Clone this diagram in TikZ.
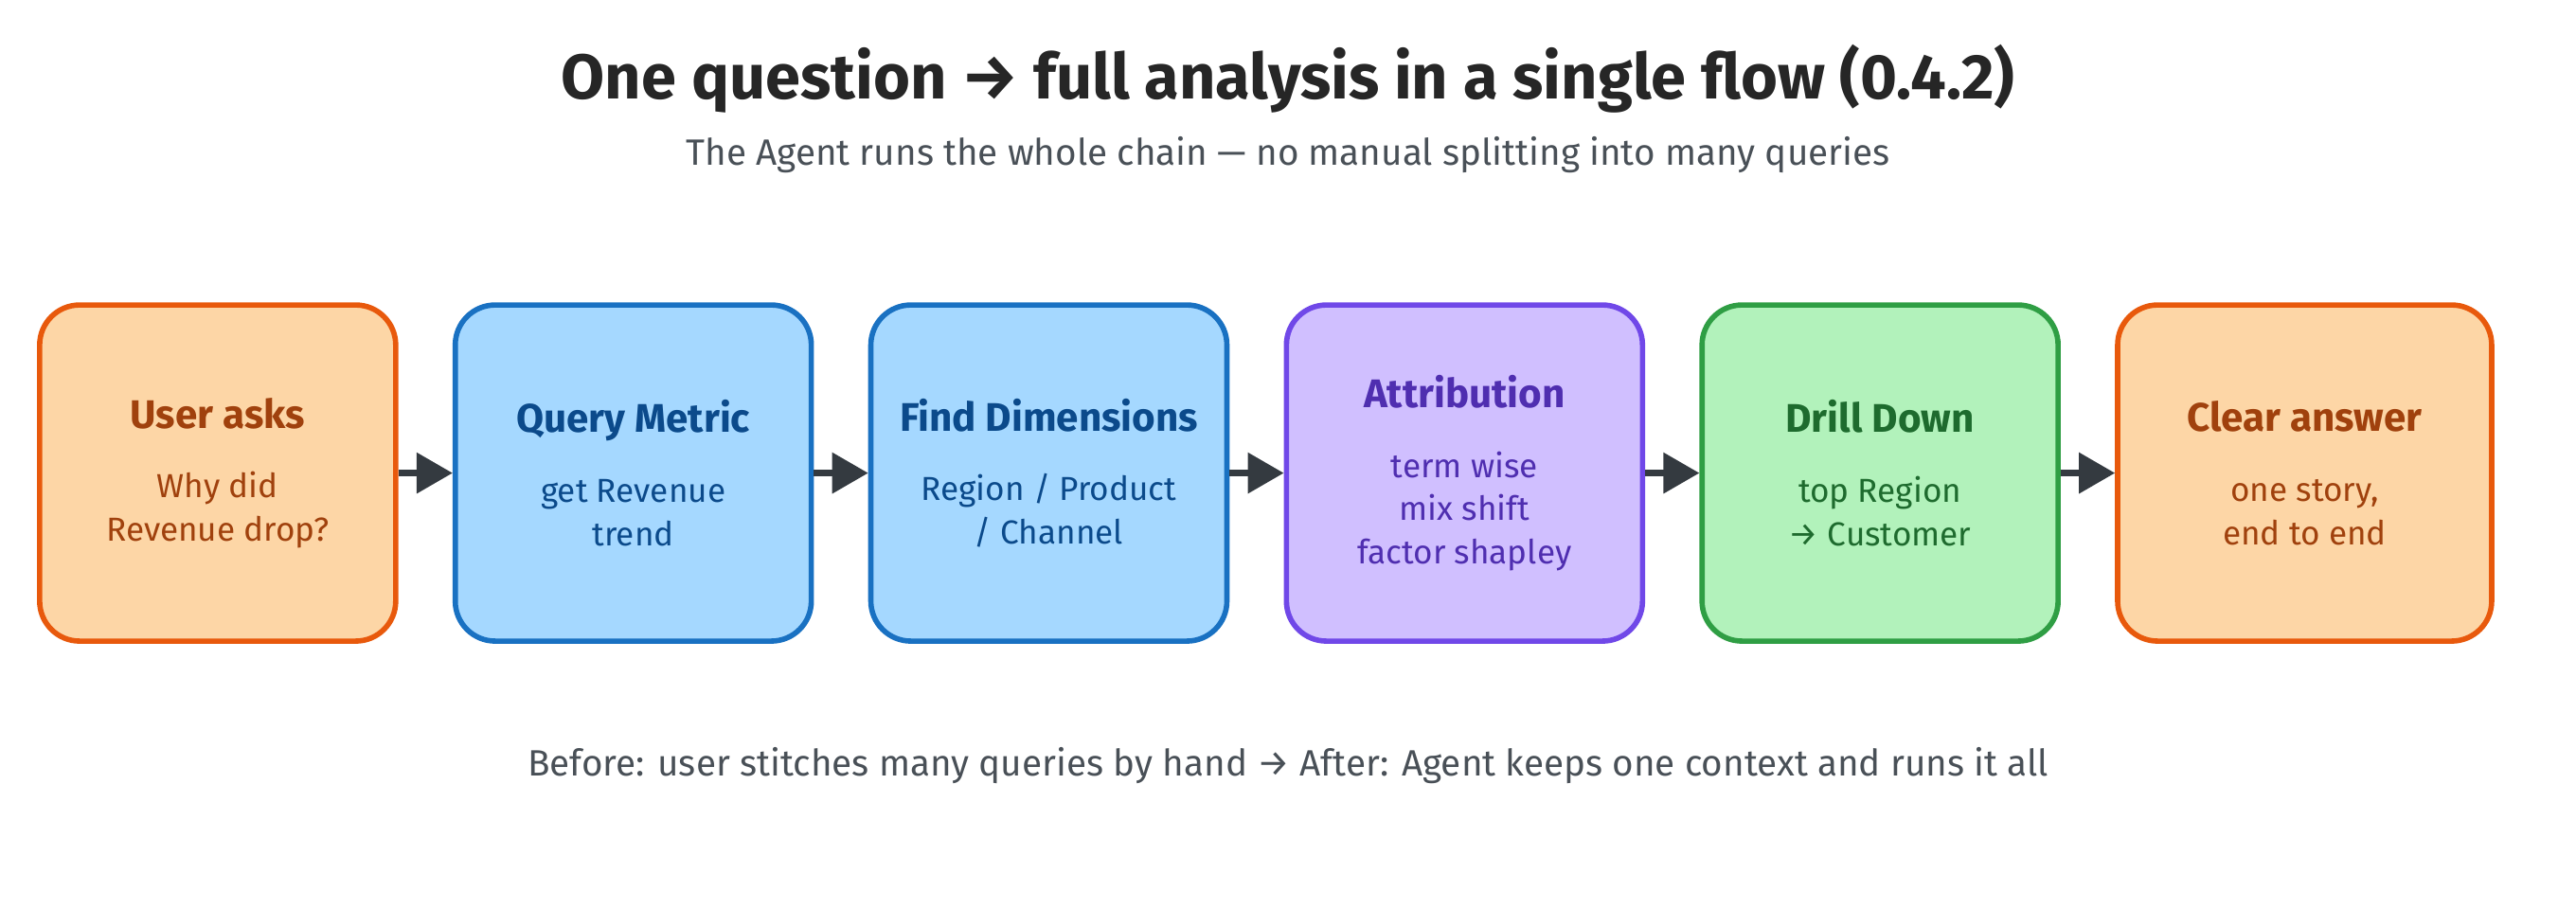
\documentclass[tikz,border=0pt]{standalone}
\usepackage{fontspec}
\setmainfont{Fira Sans}
\usepackage{tikz}
\usetikzlibrary{positioning,arrows.meta}

\definecolor{orangefill}{HTML}{FDD6A6}
\definecolor{orangeline}{HTML}{E8590C}
\definecolor{orangetext}{HTML}{A0410D}
\definecolor{bluefill}{HTML}{A5D8FF}
\definecolor{blueline}{HTML}{1971C2}
\definecolor{bluetext}{HTML}{0B4A8B}
\definecolor{purplefill}{HTML}{D0BFFF}
\definecolor{purpleline}{HTML}{7048E8}
\definecolor{purpletext}{HTML}{4F2EB0}
\definecolor{greenfill}{HTML}{B2F2BB}
\definecolor{greenline}{HTML}{2F9E44}
\definecolor{greentext}{HTML}{1E6B2E}
\definecolor{darkgrey}{HTML}{343A40}
\definecolor{textgrey}{HTML}{495057}

\tikzset{
  stepbox/.style={draw, line width=1.6pt, rounded corners=12pt, minimum width=3.76cm,
    minimum height=3.55cm, align=center, font=\fontsize{10}{13}\selectfont},
  flow/.style={darkgrey, line width=1.8pt, -{Triangle[length=0.38cm,width=0.42cm]}},
}
\newcommand{\boxhead}[1]{{\fontsize{12}{14}\selectfont\bfseries #1}\\[8pt]}

\begin{document}
\begin{tikzpicture}[x=0.1735mm,y=-0.1735mm]
\useasboundingbox (0,0) rectangle (1568,553);%
\node[font=\fontsize{19}{23}\selectfont\bfseries, color=black!85] (title) at (784,48) {One question \textrightarrow{} full analysis in a single flow (0.4.2)};%
\node[font=\fontsize{11}{13}\selectfont, color=textgrey] (subtitle) at (784,94) {The Agent runs the whole chain --- no manual splitting into many queries};%
% the six steps
\node[stepbox, fill=orangefill, draw=orangeline, text=orangetext] (ask) at (132.5,288) {\boxhead{User asks}Why did\\Revenue drop?};%
\node[stepbox, fill=bluefill, draw=blueline, text=bluetext, right=33*0.1735mm of ask] (query) {\boxhead{Query Metric}get Revenue\\trend};%
\node[stepbox, fill=bluefill, draw=blueline, text=bluetext, right=33*0.1735mm of query] (dims) {\boxhead{Find Dimensions}Region / Product\\/ Channel};%
\node[stepbox, fill=purplefill, draw=purpleline, text=purpletext, right=33*0.1735mm of dims] (attr) {\boxhead{Attribution}term wise\\mix shift\\factor shapley};%
\node[stepbox, fill=greenfill, draw=greenline, text=greentext, right=33*0.1735mm of attr] (drill) {\boxhead{Drill Down}top Region\\\textrightarrow{} Customer};%
\node[stepbox, fill=orangefill, draw=orangeline, text=orangetext, minimum width=3.95cm, right=33*0.1735mm of drill] (answer) {\boxhead{Clear answer}one story,\\end to end};%
% arrows
\draw[flow] (ask) -- (query);%
\draw[flow] (query) -- (dims);%
\draw[flow] (dims) -- (attr);%
\draw[flow] (attr) -- (drill);%
\draw[flow] (drill) -- (answer);%
\node[font=\fontsize{11}{13}\selectfont, color=textgrey] (note) at (784,466) {Before: user stitches many queries by hand \textrightarrow{} After: Agent keeps one context and runs it all};%
\end{tikzpicture}
\end{document}
